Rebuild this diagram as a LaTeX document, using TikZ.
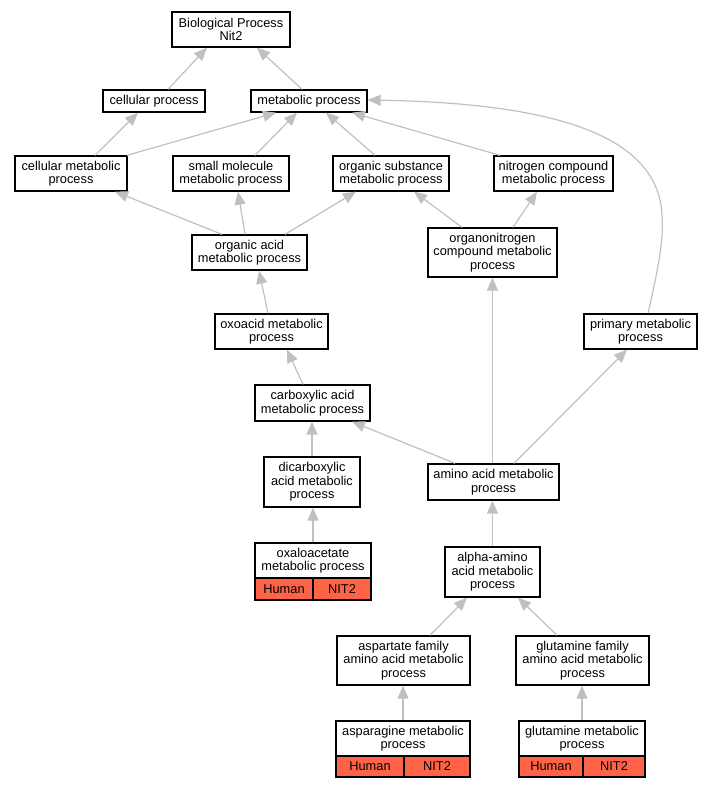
\documentclass[tikz,border=0pt]{standalone}
\usepackage{fontspec}
\setmainfont{Liberation Sans}
\usetikzlibrary{arrows.meta}
\definecolor{edgegray}{HTML}{C0C0C0}
\definecolor{hitred}{HTML}{FF6347}
\begin{document}
\begin{tikzpicture}[x=1pt,y=-1pt,
  term/.style={draw=black,line width=1.3pt,fill=white,align=center,inner sep=0pt,
    font=\fontsize{12.8}{13.6}\selectfont},
  hit/.style={draw=black,line width=1.3pt,fill=hitred,align=center,inner sep=0pt,
    minimum height=22pt,font=\fontsize{12.8}{13.6}\selectfont},
  isa/.style={draw=edgegray,line width=1.2pt,-{Triangle[length=13pt,width=11pt]}}]
\useasboundingbox (0,0) rectangle (712,789);
% nodes
\node[term,minimum width=118pt,minimum height=35pt] (bio) at (231,29.5) {Biological Process\\Nit2};
\node[term,minimum width=102pt,minimum height=22pt] (cp) at (154,101) {cellular process};
\node[term,minimum width=116pt,minimum height=22pt] (mp) at (309,101) {metabolic process};
\node[term,minimum width=112pt,minimum height=35pt] (cmp) at (71,173.5) {cellular metabolic\\process};
\node[term,minimum width=116pt,minimum height=35pt] (smp) at (231,173.5) {small molecule\\metabolic process};
\node[term,minimum width=116pt,minimum height=35pt] (osmp) at (391,173.5) {organic substance\\metabolic process};
\node[term,minimum width=119pt,minimum height=35pt] (ncmp) at (553.5,173.5) {nitrogen compound\\metabolic process};
\node[term,minimum width=115pt,minimum height=35pt] (oamp) at (249.5,252.5) {organic acid\\metabolic process};
\node[term,minimum width=129pt,minimum height=49pt] (onmp) at (492.5,252.5) {organonitrogen\\compound metabolic\\process};
\node[term,minimum width=113pt,minimum height=35pt] (oxmp) at (271.5,331.5) {oxoacid metabolic\\process};
\node[term,minimum width=113pt,minimum height=35pt] (pmp) at (640.5,331.5) {primary metabolic\\process};
\node[term,minimum width=115pt,minimum height=36pt] (camp) at (312.5,403) {carboxylic acid\\metabolic process};
\node[term,minimum width=96pt,minimum height=50pt] (dcmp) at (312,482) {dicarboxylic\\acid metabolic\\process};
\node[term,minimum width=131pt,minimum height=36pt] (aamp) at (493.5,482) {amino acid metabolic\\process};
\node[term,minimum width=116pt,minimum height=35pt] (oxal) at (313,560.5) {oxaloacetate\\metabolic process};
\node[hit,minimum width=58pt] (oxalH) at (284,589) {Human};
\node[hit,minimum width=58pt] (oxalN) at (342,589) {NIT2};
\node[term,minimum width=95pt,minimum height=50pt] (alpha) at (492.5,572) {alpha-amino\\acid metabolic\\process};
\node[term,minimum width=133pt,minimum height=49pt] (asfam) at (403.5,660.5) {aspartate family\\amino acid metabolic\\process};
\node[term,minimum width=133pt,minimum height=49pt] (glfam) at (582.5,660.5) {glutamine family\\amino acid metabolic\\process};
\node[term,minimum width=134pt,minimum height=35pt] (asn) at (403,738.5) {asparagine metabolic\\process};
\node[hit,minimum width=68pt,minimum height=21pt] (asnH) at (370,766.5) {Human};
\node[hit,minimum width=66pt,minimum height=21pt] (asnN) at (437,766.5) {NIT2};
\node[term,minimum width=126pt,minimum height=35pt] (gln) at (582,738.5) {glutamine metabolic\\process};
\node[hit,minimum width=64pt,minimum height=21pt] (glnH) at (551,766.5) {Human};
\node[hit,minimum width=62pt,minimum height=21pt] (glnN) at (614,766.5) {NIT2};
\coordinate (bend) at (662,215);
% edges
\draw[isa] ([xshift=14pt]cp.north) -- ([xshift=-24pt]bio.south);
\draw[isa] ([xshift=-7pt]mp.north) -- ([xshift=26pt]bio.south);
\draw[isa] ([xshift=24pt]cmp.north) -- ([xshift=-16pt]cp.south);
\draw[isa] ([xshift=56pt]cmp.north) -- ([xshift=-33pt]mp.south);
\draw[isa] ([xshift=24pt]smp.north) -- ([xshift=-12pt]mp.south);
\draw[isa] ([xshift=-16pt]osmp.north) -- ([xshift=17pt]mp.south);
\draw[isa] ([xshift=-53.5pt]ncmp.north) -- ([xshift=43pt]mp.south);
\draw[isa] ([xshift=7.5pt]pmp.north) .. controls +(10,-44) and +(2,25) .. (bend) .. controls +(-4,-85) and +(172,3) .. ([yshift=1pt]mp.east);
\draw[isa] ([xshift=-27.5pt]oamp.north) -- ([xshift=44pt]cmp.south);
\draw[isa] ([xshift=-4.5pt]oamp.north) -- ([xshift=7pt]smp.south);
\draw[isa] ([xshift=35.5pt]oamp.north) -- ([xshift=-35pt]osmp.south);
\draw[isa] ([xshift=-30.5pt]onmp.north) -- ([xshift=23pt]osmp.south);
\draw[isa] ([xshift=20.5pt]onmp.north) -- ([xshift=-16.5pt]ncmp.south);
\draw[isa] ([xshift=-3.5pt]oxmp.north) -- ([xshift=9.5pt]oamp.south);
\draw[isa] ([xshift=-9.5pt]camp.north) -- ([xshift=15.5pt]oxmp.south);
\draw[isa] (dcmp.north) -- (dcmp.north |- camp.south);
\draw[isa] ([xshift=-38.5pt]aamp.north) -- ([xshift=39.5pt]camp.south);
\draw[isa] ([xshift=-1pt]aamp.north) -- (onmp.south);
\draw[isa] ([xshift=20.5pt]aamp.north) -- ([xshift=-13.5pt]pmp.south);
\draw[isa] (oxal.north) -- (oxal.north |- dcmp.south);
\draw[isa] (alpha.north) -- (alpha.north |- aamp.south);
\draw[isa] ([xshift=26.5pt]asfam.north) -- ([xshift=-25.5pt]alpha.south);
\draw[isa] ([xshift=-25.5pt]glfam.north) -- ([xshift=25.5pt]alpha.south);
\draw[isa] (asn.north) -- (asn.north |- asfam.south);
\draw[isa] (gln.north) -- (gln.north |- glfam.south);
\end{tikzpicture}
\end{document}
